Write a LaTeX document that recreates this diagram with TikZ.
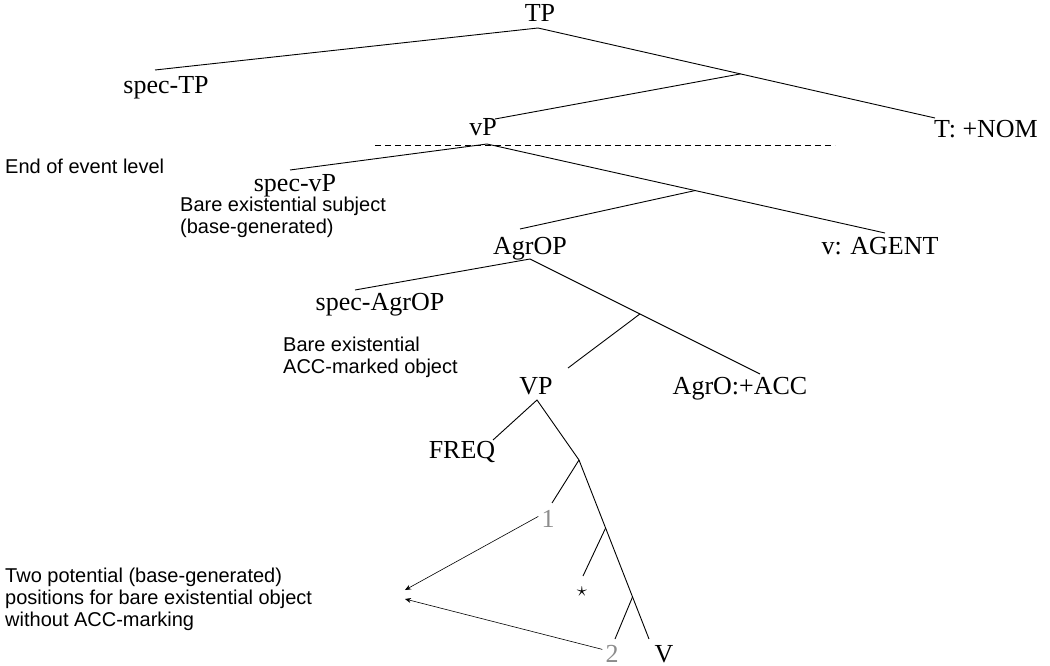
\documentclass[tikz,border=0pt]{standalone}
\usepackage{fontspec}
\setmainfont{Liberation Serif}
\newfontfamily\notefont{Liberation Sans}
\usetikzlibrary{arrows.meta, calc}

\begin{document}
\begin{tikzpicture}[
  x=1pt, y=-1pt,
  cat/.style={font=\fontsize{26}{28}\selectfont, inner sep=0pt, anchor=base},
  note/.style={font=\notefont\fontsize{20}{22}\selectfont, inner sep=0pt, anchor=base west},
  num/.style={cat, text=black!45},
  branch/.style={line width=0.9pt},
  pointer/.style={line width=0.6pt, -{Stealth[length=6pt, width=5pt]}}
]
  \useasboundingbox (0,0) rectangle (1050,666);

  % Etiquettes de l'arbre
  \node[cat] (tp) at (540,22) {TP};
  \node[cat] (spectp) at (166,94) {spec-TP};
  \node[cat] (vp) at (483,136) {vP};
  \node[cat] (nom) at (986,138) {T: +NOM};
  \node[cat] (specvp) at (295,191) {spec-vP};
  \node[cat] (agrop) at (530,254) {AgrOP};
  \node[cat] (agent) at (880,254) {v: AGENT};
  \node[cat] (specagrop) at (380,310) {spec-AgrOP};
  \node[cat] (VP) at (536,394) {VP};
  \node[cat] (acc) at (740,394) {AgrO:+ACC};
  \node[cat] (freq) at (462,458) {FREQ};
  \node[num] (one) at (548,527) {1};
  \node[font=\fontsize{20}{22}\selectfont, inner sep=0pt] (star) at (582,592) {$\star$};
  \node[num] (two) at (612,662) {2};
  \node[cat] (V) at (664,662) {V};

  % Commentaires
  \node[note] (event) at (5,174) {End of event level};
  \node[note, align=left, anchor=north west] (subj) at (180,197)
    {Bare existential subject\\(base-generated)};
  \node[note, align=left, anchor=north west] (accobj) at (283,337)
    {Bare existential\\ACC-marked object};
  \node[note, align=left, anchor=north west] (positions) at (5,568)
    {Two potential (base-generated)\\positions for bare existential object\\without ACC-marking};

  % Points de branchement
  \coordinate (tp-bot) at (538,28);
  \coordinate (spectp-top) at (155,70);
  \coordinate (nom-top) at (935,118);
  \coordinate (tbar) at ($(tp-bot)!0.51!(nom-top)$);
  \coordinate (vp-top) at (495,119);
  \coordinate (vp-bot) at (487,144);
  \coordinate (specvp-top) at (290,170);
  \coordinate (agent-top) at (885,233);
  \coordinate (vbar) at ($(vp-bot)!0.523!(agent-top)$);
  \coordinate (agrop-top) at (520,229);
  \coordinate (agrop-bot) at (530,259);
  \coordinate (specagrop-top) at (355,290);
  \coordinate (acc-top) at (760,374);
  \coordinate (agrobar) at ($(agrop-bot)!0.478!(acc-top)$);
  \coordinate (VP-top) at (568,368);
  \coordinate (VP-bot) at (537,400);
  \coordinate (freq-top) at (493,440);
  \coordinate (b1) at (579,460);
  \coordinate (V-top) at (649,639);
  \coordinate (b2) at ($(b1)!0.38!(V-top)$);
  \coordinate (b3) at ($(b1)!0.765!(V-top)$);
  \coordinate (one-top) at (552,503);
  \coordinate (star-top) at (583,576);
  \coordinate (two-top) at (615,639);
  \coordinate (tip-a) at (405,590);
  \coordinate (tip-b) at (405,599);

  % Branches
  \draw[branch] (spectp-top) -- (tp-bot) -- (nom-top);
  \draw[branch] (tbar) -- (vp-top);
  \draw[dashed, line width=0.8pt, dash pattern=on 6pt off 4pt] (375,145) -- (835,145);
  \draw[branch] (specvp-top) -- (vp-bot) -- (agent-top);
  \draw[branch] (vbar) -- (agrop-top);
  \draw[branch] (specagrop-top) -- (agrop-bot) -- (acc-top);
  \draw[branch] (agrobar) -- (VP-top);
  \draw[branch] (freq-top) -- (VP-bot) -- (b1) -- (V-top);
  \draw[branch] (b1) -- (one-top);
  \draw[branch] (b2) -- (star-top);
  \draw[branch] (b3) -- (two-top);

  % Fleches vers le commentaire
  \draw[pointer] ([xshift=-3pt, yshift=2pt]one.west) -- (tip-a);
  \draw[pointer] ([xshift=-3pt, yshift=4pt]two.west) -- (tip-b);

\end{tikzpicture}
\end{document}
